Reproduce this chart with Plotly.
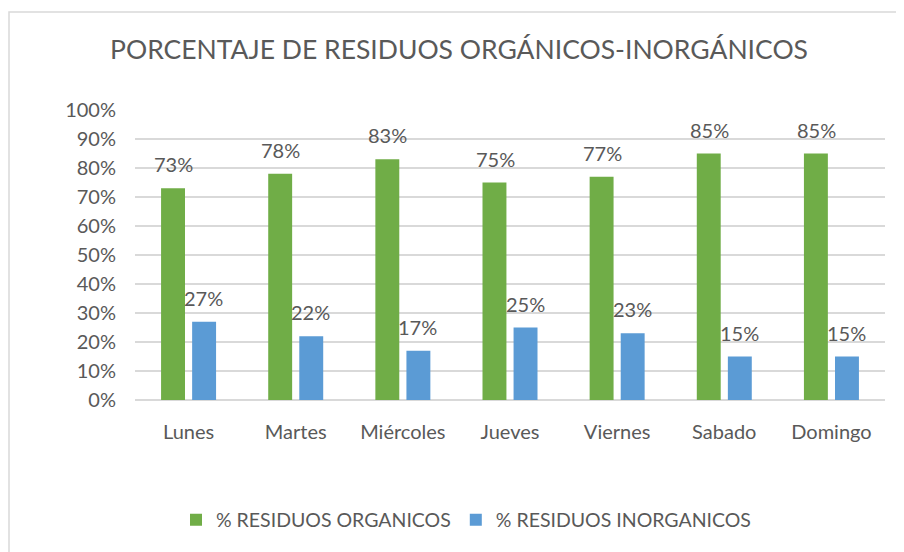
import plotly.graph_objects as go

dias = ["Lunes", "Martes", "Miércoles", "Jueves", "Viernes", "Sabado", "Domingo"]
organicos = [0.73, 0.78, 0.83, 0.75, 0.77, 0.85, 0.85]
inorganicos = [0.27, 0.22, 0.17, 0.25, 0.23, 0.15, 0.15]
y_ticks = [i / 10 for i in range(11)]
y_tick_labels = [f"{i*10}%" for i in range(11)]

GREEN = "#70AD47"
BLUE = "#5B9BD5"
TXT = "#595959"
FONT = "Lato"

# page body has an 8px offset; compensate in margins
OFF = 8
W, H = 904, 552
ML, MR, MT, MB = 135 - OFF, 19 + OFF, 110 - OFF, 152 + OFF

fig = go.Figure()
fig.add_trace(go.Bar(x=dias, y=organicos, name="% RESIDUOS ORGANICOS",
                     marker=dict(color=GREEN, line=dict(width=0)), hoverinfo="skip"))
fig.add_trace(go.Bar(x=dias, y=inorganicos, name="% RESIDUOS INORGANICOS",
                     marker=dict(color=BLUE, line=dict(width=0)), hoverinfo="skip"))

annotations = []
for i, d in enumerate(dias):
    for vals, sh in ((organicos, -15), (inorganicos, 15)):
        annotations.append(dict(x=d, y=vals[i], xref="x", yref="y", text=f"{round(vals[i]*100)}%",
                                showarrow=False, yanchor="bottom", xshift=sh, yshift=10,
                                font=dict(family=FONT, size=20, color=TXT)))

pw = W - ML - MR
ph = H - MT - MB
fig.update_layout(
    width=W, height=H,
    margin=dict(l=ML, r=MR, t=MT, b=MB, pad=0),
    paper_bgcolor="white", plot_bgcolor="white",
    barmode="group", bargap=0.42, bargroupgap=0.23,
    title=dict(text="PORCENTAJE DE RESIDUOS ORGÁNICOS-INORGÁNICOS", x=(459 - OFF) / W, xref="container",
               xanchor="center", y=1 - (50 - OFF) / H, yref="container", yanchor="middle",
               font=dict(family=FONT, size=26.5, color=TXT)),
    font=dict(family=FONT, color=TXT),
    xaxis=dict(showgrid=False, showline=False, ticks="", tickfont=dict(family=FONT, size=20, color=TXT),
               ticklabelstandoff=18),
    yaxis=dict(range=[0, 1], tickvals=y_ticks, ticktext=y_tick_labels, showgrid=True,
               gridcolor="#D9D9D9", gridwidth=1.5, zeroline=True, zerolinecolor="#D9D9D9",
               zerolinewidth=1.5, showline=False, ticks="", tickfont=dict(family=FONT, size=20, color=TXT),
               ticklabelstandoff=18),
    legend=dict(orientation="h", x=(466 - 135) / pw, xanchor="center", y=(400 - 520) / ph, yanchor="middle",
                font=dict(family=FONT, size=19.5, color=TXT), itemwidth=30,
                traceorder="normal"),
    annotations=annotations,
    showlegend=True,
)
fig.add_shape(type="rect", xref="paper", yref="paper",
              x0=(9 - 135) / pw, x1=(W + 20 - 135) / pw,
              y0=(400 - H - 30) / ph, y1=(400 - 12) / ph,
              line=dict(color="#D9D9D9", width=1.5), fillcolor="rgba(0,0,0,0)", layer="below")
fig.write_html("out.html")
